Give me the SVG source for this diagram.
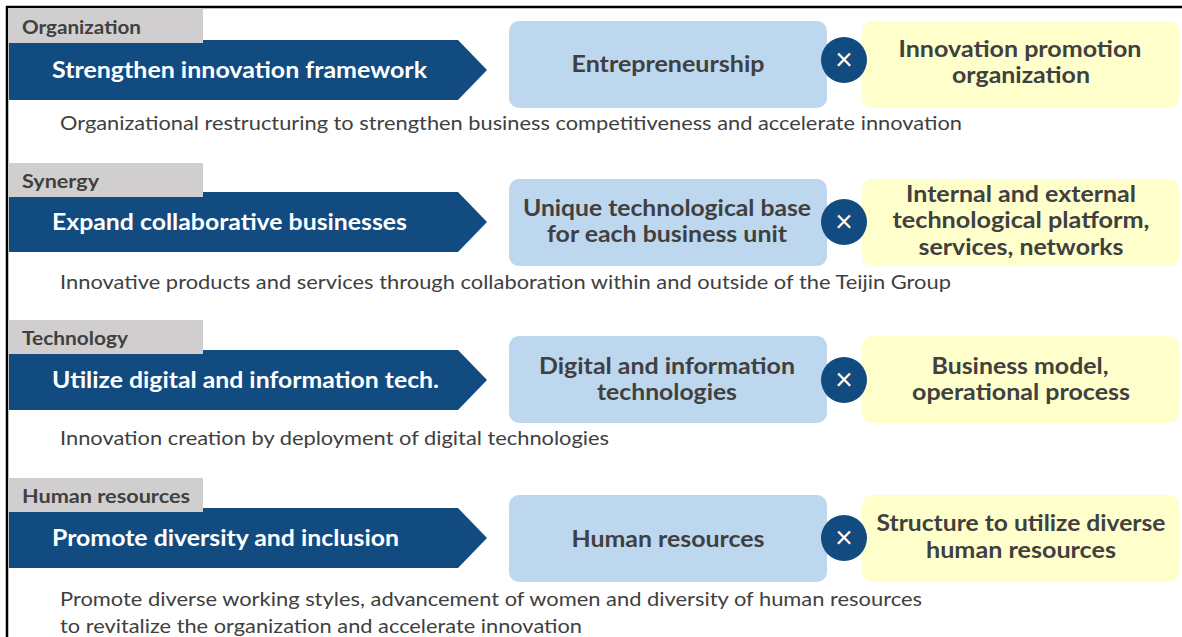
<svg xmlns="http://www.w3.org/2000/svg" width="1182" height="637" viewBox="0 0 1182 637">
  <style>
    .frame { stroke: #000; stroke-width: 2.5; fill: none; }
    .tab { fill: #D0CECE; }
    .arrow { fill: #124B80; }
    .base { fill: #BDD7EE; }
    .partner { fill: #FFFFCC; }
    .op { fill: #124B80; }
    text { font-family: Lato, "Open Sans", "Liberation Sans", sans-serif; }
    .tab-label { font-size: 19px; font-weight: 700; fill: #404040; }
    .arrow-label { font-size: 22px; font-weight: 700; fill: #FFFFFF; }
    .box-label { font-size: 22px; font-weight: 700; fill: #404040; text-anchor: middle; }
    .desc { font-size: 20px; fill: #404040; }
    .times { font-size: 30px; font-weight: 400; fill: #FFFFFF; text-anchor: middle; }
  </style>

  <!-- outer frame: top and left edges -->
  <path class="frame" d="M7,637 V7 H1182"/>

  <!-- Row 1: Organization -->
  <g id="row-organization">
    <g id="organization-arrow">
      <polygon class="arrow" points="9,40 458,40 487,70 458,100 9,100"/>
      <text class="arrow-label" x="52" y="78" textLength="375" lengthAdjust="spacingAndGlyphs">Strengthen innovation framework</text>
    </g>
    <g id="organization-tab">
      <rect class="tab" x="8" y="8" width="195" height="35"/>
      <text class="tab-label" x="22" y="34" textLength="119" lengthAdjust="spacingAndGlyphs">Organization</text>
    </g>
    <g id="organization-base">
      <rect class="base" x="509" y="21" width="318" height="87" rx="10"/>
      <text class="box-label" x="668" y="72" textLength="193" lengthAdjust="spacingAndGlyphs">Entrepreneurship</text>
    </g>
    <g id="organization-partner">
      <rect class="partner" x="862" y="21" width="317" height="87" rx="10"/>
      <text class="box-label" x="1020" y="57" textLength="243" lengthAdjust="spacingAndGlyphs">Innovation promotion</text>
      <text class="box-label" x="1021" y="83" textLength="138" lengthAdjust="spacingAndGlyphs">organization</text>
    </g>
    <g id="organization-op">
      <circle class="op" cx="844" cy="60" r="23"/>
      <text class="times" x="844" y="70">×</text>
    </g>
    <text class="desc" x="60" y="130" textLength="902" lengthAdjust="spacingAndGlyphs">Organizational restructuring to strengthen business competitiveness and accelerate innovation</text>
  </g>

  <!-- Row 2: Synergy -->
  <g id="row-synergy">
    <g id="synergy-arrow">
      <polygon class="arrow" points="9,192 458,192 487,222 458,252 9,252"/>
      <text class="arrow-label" x="52" y="230" textLength="355" lengthAdjust="spacingAndGlyphs">Expand collaborative businesses</text>
    </g>
    <g id="synergy-tab">
      <rect class="tab" x="8" y="163" width="195" height="34"/>
      <text class="tab-label" x="22" y="188" textLength="77" lengthAdjust="spacingAndGlyphs">Synergy</text>
    </g>
    <g id="synergy-base">
      <rect class="base" x="509" y="179" width="318" height="87" rx="10"/>
      <text class="box-label" x="667" y="216" textLength="288" lengthAdjust="spacingAndGlyphs">Unique technological base</text>
      <text class="box-label" x="667" y="242" textLength="240" lengthAdjust="spacingAndGlyphs">for each business unit</text>
    </g>
    <g id="synergy-partner">
      <rect class="partner" x="862" y="179" width="317" height="87" rx="10"/>
      <text class="box-label" x="1021" y="202" textLength="230" lengthAdjust="spacingAndGlyphs">Internal and external</text>
      <text class="box-label" x="1021" y="228" textLength="257" lengthAdjust="spacingAndGlyphs">technological platform,</text>
      <text class="box-label" x="1021" y="255" textLength="205" lengthAdjust="spacingAndGlyphs">services, networks</text>
    </g>
    <g id="synergy-op">
      <circle class="op" cx="844" cy="222" r="23"/>
      <text class="times" x="844" y="232">×</text>
    </g>
    <text class="desc" x="60" y="289" textLength="891" lengthAdjust="spacingAndGlyphs">Innovative products and services through collaboration within and outside of the Teijin Group</text>
  </g>

  <!-- Row 3: Technology -->
  <g id="row-technology">
    <g id="technology-arrow">
      <polygon class="arrow" points="9,350 458,350 487,380 458,410 9,410"/>
      <text class="arrow-label" x="52" y="388" textLength="387" lengthAdjust="spacingAndGlyphs">Utilize digital and information tech.</text>
    </g>
    <g id="technology-tab">
      <rect class="tab" x="8" y="320" width="195" height="34"/>
      <text class="tab-label" x="22" y="345" textLength="106" lengthAdjust="spacingAndGlyphs">Technology</text>
    </g>
    <g id="technology-base">
      <rect class="base" x="509" y="336" width="318" height="87" rx="10"/>
      <text class="box-label" x="667" y="374" textLength="256" lengthAdjust="spacingAndGlyphs">Digital and information</text>
      <text class="box-label" x="667" y="400" textLength="140" lengthAdjust="spacingAndGlyphs">technologies</text>
    </g>
    <g id="technology-partner">
      <rect class="partner" x="862" y="336" width="317" height="87" rx="10"/>
      <text class="box-label" x="1020" y="374" textLength="177" lengthAdjust="spacingAndGlyphs">Business model,</text>
      <text class="box-label" x="1021" y="400" textLength="218" lengthAdjust="spacingAndGlyphs">operational process</text>
    </g>
    <g id="technology-op">
      <circle class="op" cx="844" cy="380" r="23"/>
      <text class="times" x="844" y="390">×</text>
    </g>
    <text class="desc" x="60" y="445" textLength="549" lengthAdjust="spacingAndGlyphs">Innovation creation by deployment of digital technologies</text>
  </g>

  <!-- Row 4: Human resources -->
  <g id="row-human-resources">
    <g id="human-arrow">
      <polygon class="arrow" points="9,508 458,508 487,538 458,568 9,568"/>
      <text class="arrow-label" x="52" y="546" textLength="347" lengthAdjust="spacingAndGlyphs">Promote diversity and inclusion</text>
    </g>
    <g id="human-tab">
      <rect class="tab" x="8" y="478" width="195" height="34"/>
      <text class="tab-label" x="22" y="503" textLength="168" lengthAdjust="spacingAndGlyphs">Human resources</text>
    </g>
    <g id="human-base">
      <rect class="base" x="509" y="495" width="318" height="87" rx="10"/>
      <text class="box-label" x="668" y="547" textLength="193" lengthAdjust="spacingAndGlyphs">Human resources</text>
    </g>
    <g id="human-partner">
      <rect class="partner" x="862" y="495" width="317" height="87" rx="10"/>
      <text class="box-label" x="1021" y="531" textLength="289" lengthAdjust="spacingAndGlyphs">Structure to utilize diverse</text>
      <text class="box-label" x="1021" y="558" textLength="190" lengthAdjust="spacingAndGlyphs">human resources</text>
    </g>
    <g id="human-op">
      <circle class="op" cx="844" cy="538" r="23"/>
      <text class="times" x="844" y="548">×</text>
    </g>
    <text class="desc" x="60" y="606" textLength="862" lengthAdjust="spacingAndGlyphs">Promote diverse working styles, advancement of women and diversity of human resources</text>
    <text class="desc" x="60" y="633" textLength="522" lengthAdjust="spacingAndGlyphs">to revitalize the organization and accelerate innovation</text>
  </g>
</svg>
